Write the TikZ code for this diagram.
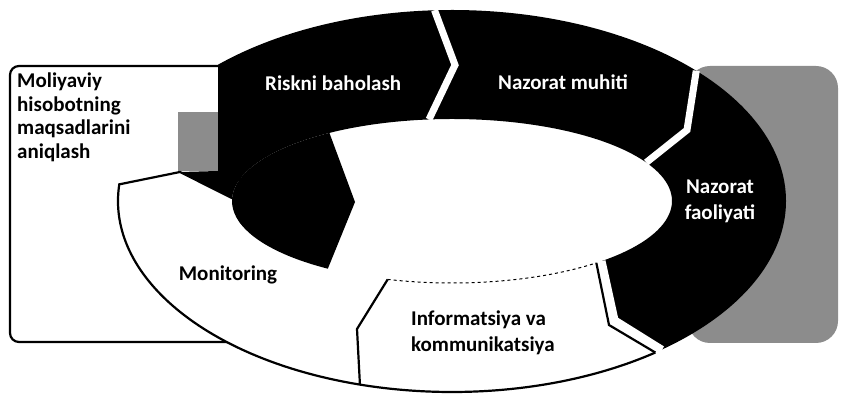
\documentclass[tikz,border=0pt]{standalone}
\usepackage{fontspec}
\setmainfont{Carlito}
\begin{document}
\begin{tikzpicture}[x=1pt,y=1pt,
  lbl/.style={font=\fontsize{21}{26}\selectfont\bfseries, inner sep=0pt},
  outl/.style={draw=black, line width=2.2pt, line join=miter},
  gapline/.style={draw=white, line width=7pt, line join=miter},
  texture/.style={fill=black!45}
]
\useasboundingbox (0,0) rectangle (841,396);
\coordinate (C) at (452,195);
\coordinate (V1) at (455,331);
\coordinate (V2) at (687,266);
\coordinate (V3) at (615,76);
\coordinate (V3b) at (609,71);
\coordinate (V4) at (357,67);
\coordinate (V5) at (180,224);
\coordinate (O1) at ([shift={(C)}]93:334pt and 191pt);
\coordinate (I1) at ([shift={(C)}]96:220pt and 82pt);
\coordinate (O2) at ([shift={(C)}]43:334pt and 191pt);
\coordinate (I2) at ([shift={(C)}]28:220pt and 82pt);
\coordinate (O3) at ([shift={(C)}]-51:334pt and 191pt);
\coordinate (I3) at ([shift={(C)}]-47:220pt and 82pt);
\coordinate (O3b) at ([shift={(C)}]-52.5:334pt and 191pt);
\coordinate (I3b) at ([shift={(C)}]-49:220pt and 82pt);
\coordinate (O4) at ([shift={(C)}]-106:334pt and 191pt);
\coordinate (I4) at ([shift={(C)}]-107:220pt and 82pt);
\coordinate (O5) at ([shift={(C)}]-185:334pt and 191pt);
\coordinate (I5) at ([shift={(C)}]-182:220pt and 82pt);

% background boxes
\fill[texture, rounded corners=22pt] (688,53) rectangle (838,330);
\draw[fill=white, line width=2.2pt, rounded corners=9pt] (10,54) rectangle (240,330);
\fill[texture] (178,225) rectangle (218,284);

% white segments
\fill[white] (O4) arc[start angle=-106, end angle=-185, x radius=334pt, y radius=191pt]
  -- (V5) -- (I5) arc[start angle=-182, end angle=-107, x radius=220pt, y radius=82pt]
  -- (V4) -- cycle;
\fill[white] (O3b) arc[start angle=-52.5, end angle=-106, x radius=334pt, y radius=191pt]
  -- (V4) -- (I4) arc[start angle=-107, end angle=-49, x radius=220pt, y radius=82pt]
  -- (V3b) -- cycle;
\draw[outl] (O4) arc[start angle=-106, end angle=-185, x radius=334pt, y radius=191pt]
  -- (V5) -- (I5);
\draw[outl] (O3b) arc[start angle=-52.5, end angle=-106, x radius=334pt, y radius=191pt];
\draw[outl] (O4) -- (V4) -- (I4);
\draw[outl] (O3b) -- (V3b) -- (I3b);
\draw[black, line width=1pt, dashed] (I4) arc[start angle=-107, end angle=-49, x radius=220pt, y radius=82pt];

% dark segments
\begin{scope}
\clip (-10,205) -- (119,211.6) -- (180,224) -- (218,225) -- (218,400) -- (850,400) -- (850,-10) -- (-10,-10) -- cycle;
\fill[black] (O5) arc[start angle=175, end angle=93, x radius=334pt, y radius=191pt]
  -- (V1) -- (I1) arc[start angle=96, end angle=178, x radius=220pt, y radius=82pt]
  -- (V5) -- cycle;
\end{scope}
\fill[black] (O1) arc[start angle=93, end angle=43, x radius=334pt, y radius=191pt]
  -- (V2) -- (I2) arc[start angle=28, end angle=96, x radius=220pt, y radius=82pt]
  -- (V1) -- cycle;
\fill[black] (O2) arc[start angle=43, end angle=-51, x radius=334pt, y radius=191pt]
  -- (V3) -- (I3) arc[start angle=-47, end angle=28, x radius=220pt, y radius=82pt]
  -- (V2) -- cycle;
\begin{scope}
\clip (C) ellipse[x radius=220pt, y radius=82pt];
\fill[black] (200,300) -- (325,275) -- (355,194) -- (322,113) -- (200,90) -- cycle;
\end{scope}

% gaps
\draw[gapline] (O1) -- (V1) -- (I1);
\draw[gapline] (O2) -- (V2) -- (I2);
\draw[gapline] (O3) -- (V3) -- (I3);

% labels
\node[lbl, text=white, anchor=west] (risk) at (265,313) {Riskni baholash};
\node[lbl, text=white, anchor=west] (muh) at (498,314) {Nazorat muhiti};
\node[lbl, text=white, align=center] (fao) at (720,195) {Nazorat\\faoliyati};
\node[lbl, align=left, anchor=west] (inf) at (411,63) {Informatsiya va\\kommunikatsiya};
\node[lbl] (mon) at (228,121) {Monitoring};
\node[lbl, font=\fontsize{21}{23.5}\selectfont\bfseries, align=left, anchor=north west] (mol) at (17,323) {Moliyaviy\\hisobotning\\maqsadlarini\\aniqlash};
\end{tikzpicture}
\end{document}
